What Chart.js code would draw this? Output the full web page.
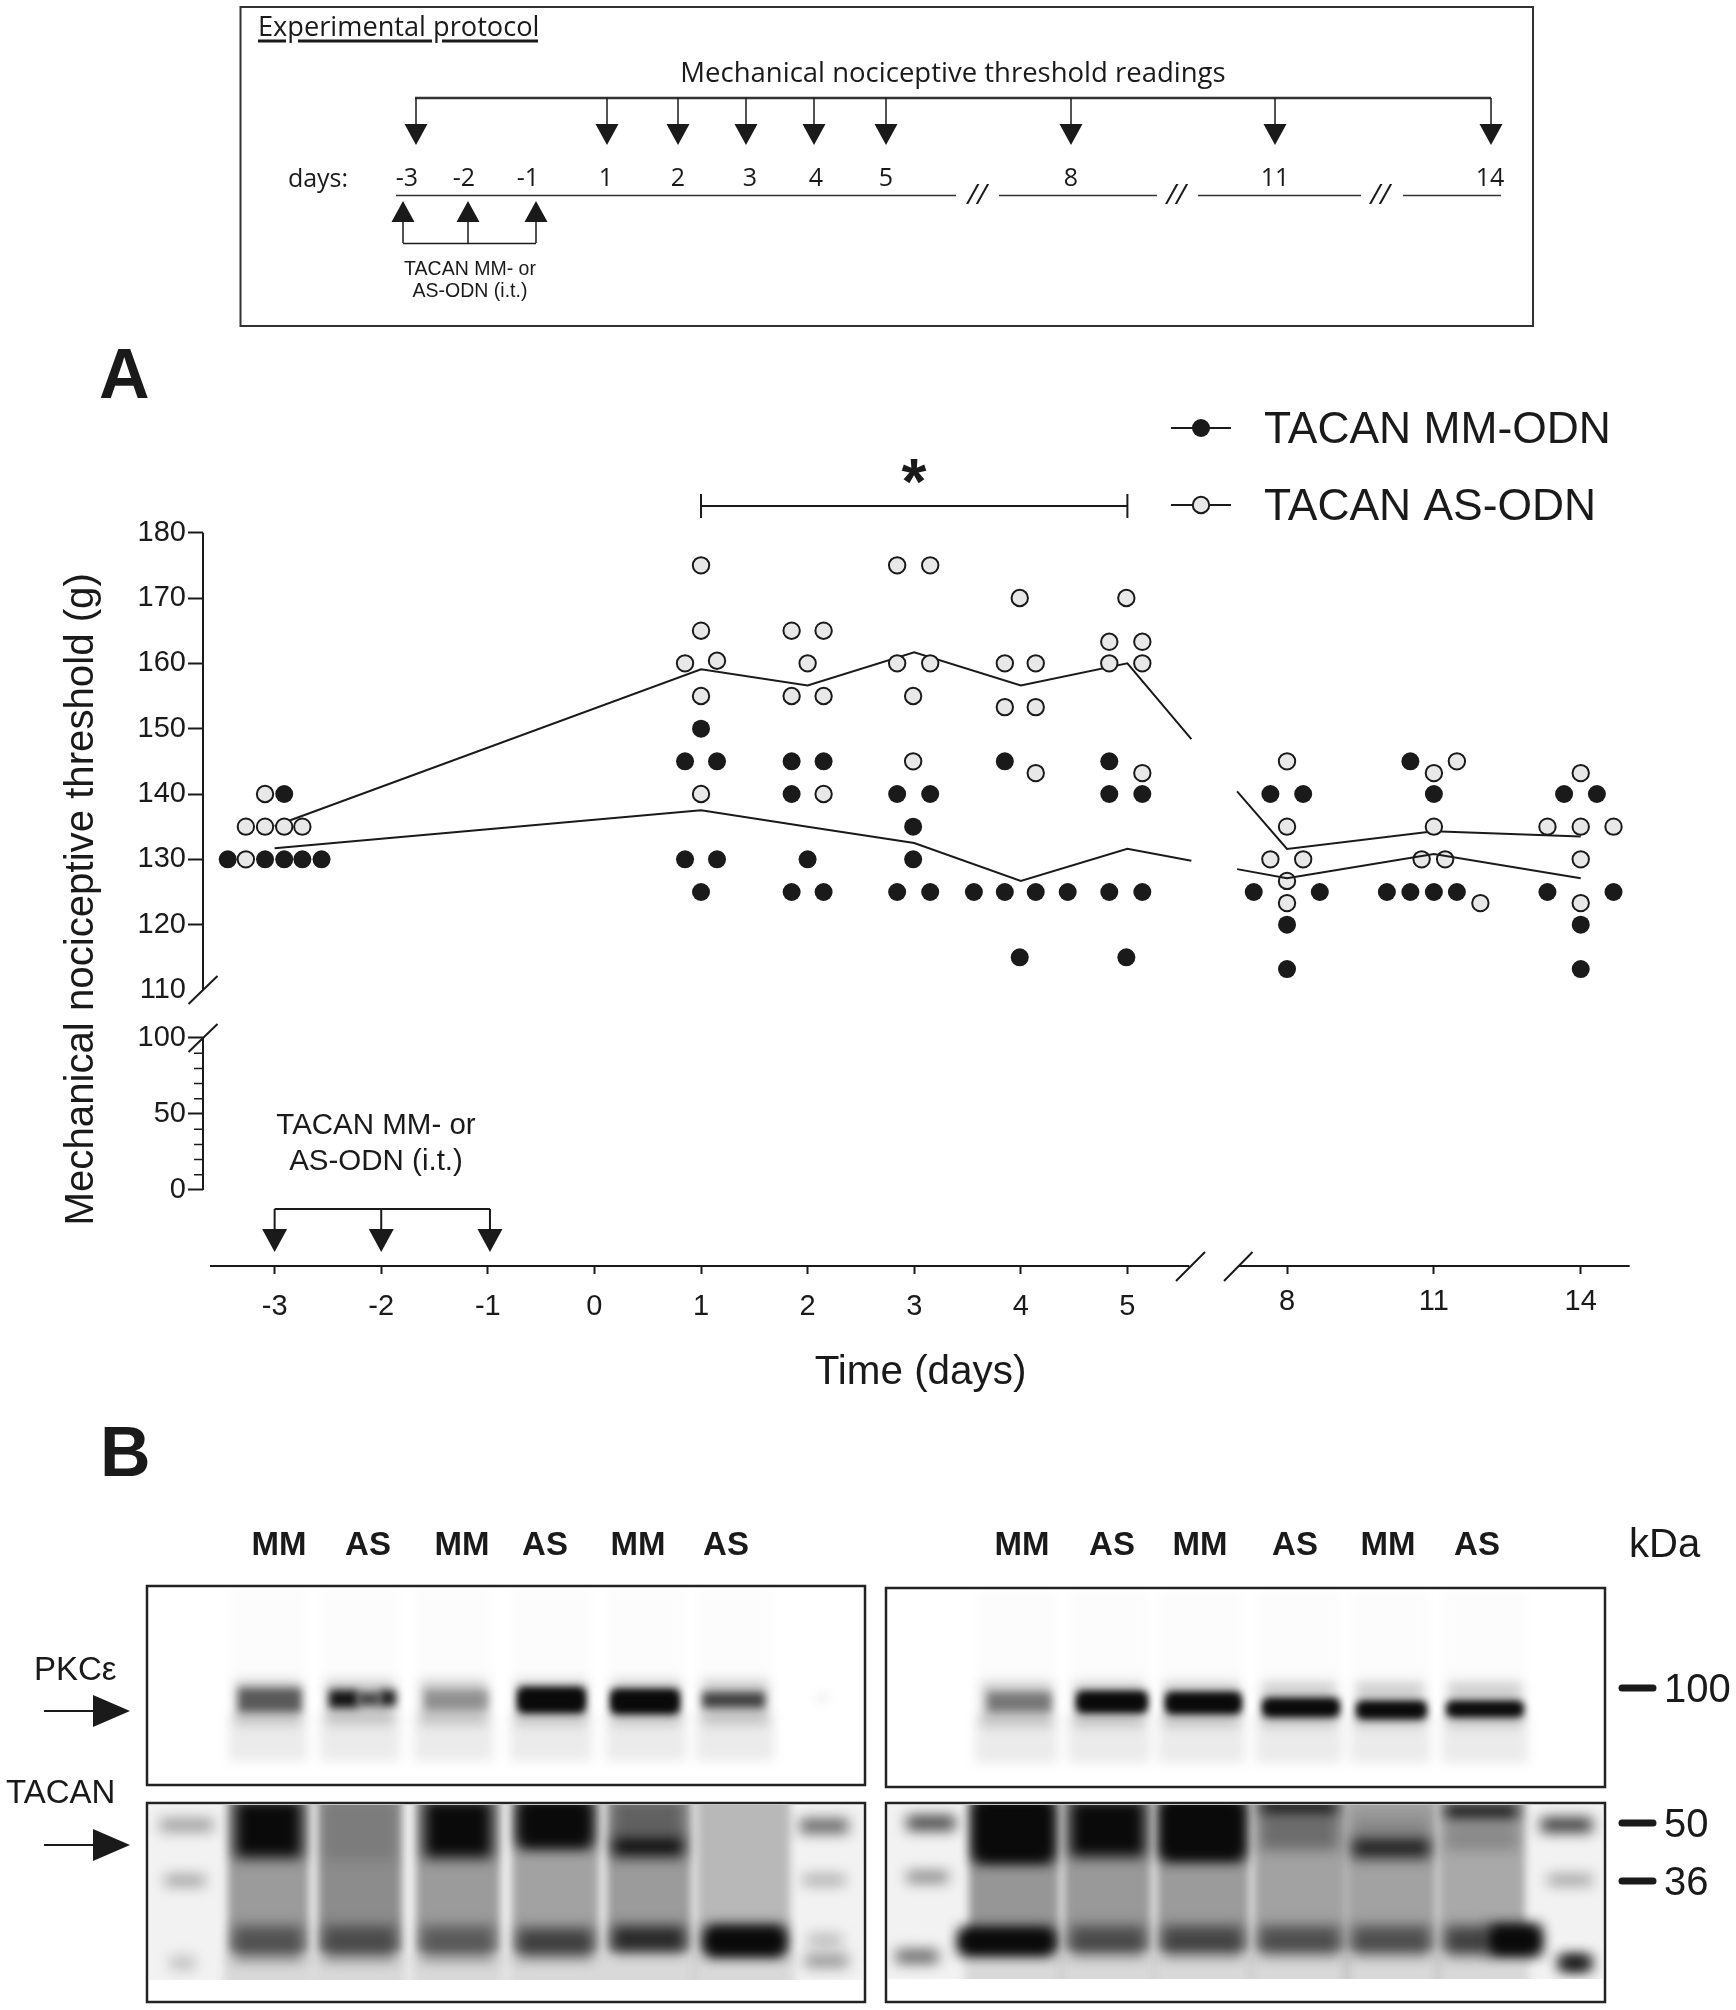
<!DOCTYPE html>
<html>
<head>
<meta charset="utf-8">
<title>TACAN ODN mechanical threshold</title>
<script src="https://cdn.jsdelivr.net/npm/chart.js@4"></script>
<style>
  html, body { margin: 0; padding: 0; background: #fff; }
  #page { position: relative; width: 1736px; height: 2010px; overflow: hidden; }
  #page canvas, #page svg { position: absolute; left: 0; top: 0; }
  svg text { fill: #1a1a1a; }
  .ar { font-family: "Liberation Sans", Arial, sans-serif; }
  .os { font-family: "Open Sans", sans-serif; }
</style>
</head>
<body>
<div id="page">
  <canvas id="blots" width="1736" height="2010"></canvas>
  <canvas id="chart" width="1736" height="1420"></canvas>
  <svg width="1736" height="2010" viewBox="0 0 1736 2010">
    <defs>
      <g id="dn"><path d="M0 0V27" stroke="#1a1a1a" stroke-width="1.5"/><path d="M-11.5 26H11.5L0 47Z" fill="#1a1a1a"/></g>
      <path id="bigArrow" d="M44 -1V1H93V16L130 0L93 -16V-1Z" fill="#1a1a1a"/>
    </defs>

    <!-- protocol box -->
    <rect x="240.5" y="7" width="1292.5" height="319" fill="none" stroke="#333" stroke-width="2"/>
    <text class="os" x="258" y="25" font-size="27.2" dominant-baseline="central">Experimental protocol</text>
    <path d="M258 41H286M298 41H432M442 41H538" stroke="#1a1a1a" stroke-width="3"/>
    <text class="os" x="953" y="71" font-size="27.5" text-anchor="middle" dominant-baseline="central">Mechanical nociceptive threshold readings</text>
    <path d="M415 98H1491" stroke="#333" stroke-width="2.5"/>
    <use href="#dn" x="416" y="98"/><use href="#dn" x="607" y="98"/><use href="#dn" x="678" y="98"/>
    <use href="#dn" x="746" y="98"/><use href="#dn" x="814" y="98"/><use href="#dn" x="886" y="98"/>
    <use href="#dn" x="1071" y="98"/><use href="#dn" x="1275" y="98"/><use href="#dn" x="1491" y="98"/>
    <g class="os" font-size="25" text-anchor="middle" dominant-baseline="central">
      <text x="318" y="177">days:</text>
      <text x="407" y="176">-3</text><text x="464" y="176">-2</text><text x="528" y="176">-1</text>
      <text x="606" y="176">1</text><text x="678" y="176">2</text><text x="750" y="176">3</text>
      <text x="816" y="176">4</text><text x="886" y="176">5</text><text x="1071" y="176">8</text>
      <text x="1275" y="176">11</text><text x="1490" y="176">14</text>
      <text x="977" y="193" font-size="28" font-style="italic">//</text>
      <text x="1176" y="193" font-size="28" font-style="italic">//</text>
      <text x="1380" y="193" font-size="28" font-style="italic">//</text>
    </g>
    <path d="M396 195.5H956M999 195.5H1157M1198 195.5H1361M1403 195.5H1501" stroke="#333" stroke-width="1.5"/>
    <path d="M403 243V221M468 243V221M536 243V221M403 243.5H536" stroke="#1a1a1a" stroke-width="1.5" fill="none"/>
    <path d="M391.5 222H414.5L403 201ZM456.5 222H479.5L468 201ZM524.5 222H547.5L536 201Z" fill="#1a1a1a"/>
    <g class="ar" font-size="19.5" text-anchor="middle" dominant-baseline="central">
      <text x="470" y="268">TACAN MM- or</text>
      <text x="470" y="290">AS-ODN (i.t.)</text>
    </g>

    <!-- panel letters -->
    <text class="ar" x="99" y="398" font-size="70" font-weight="700">A</text>
    <text class="ar" x="100" y="1476" font-size="70" font-weight="700">B</text>

    <!-- blot labels -->
    <g class="ar" font-size="33" font-weight="700" text-anchor="middle" dominant-baseline="central">
      <text x="279" y="1543">MM</text><text x="368" y="1543">AS</text><text x="462" y="1543">MM</text>
      <text x="545" y="1543">AS</text><text x="638" y="1543">MM</text><text x="726" y="1543">AS</text>
      <text x="1022" y="1543">MM</text><text x="1112" y="1543">AS</text><text x="1200" y="1543">MM</text>
      <text x="1295" y="1543">AS</text><text x="1388" y="1543">MM</text><text x="1477" y="1543">AS</text>
    </g>
    <g class="ar" font-size="40" dominant-baseline="central">
      <text x="1629" y="1543">kDa</text>
      <text x="1664" y="1688">100</text>
      <text x="1664" y="1823">50</text>
      <text x="1664" y="1881">36</text>
    </g>
    <path d="M1622 1688H1653M1622 1823H1653M1622 1881H1653" stroke="#1a1a1a" stroke-width="7" stroke-linecap="round"/>
    <g class="ar" font-size="33" dominant-baseline="central">
      <text x="34" y="1668">PKCε</text>
      <text x="6" y="1791">TACAN</text>
    </g>
    <use href="#bigArrow" x="0" y="1711"/>
    <use href="#bigArrow" x="0" y="1845"/>

    <!-- blot frames -->
    <g fill="none" stroke="#222" stroke-width="2.5">
      <rect x="147" y="1586" width="718" height="199"/>
      <rect x="147" y="1803" width="718" height="199"/>
      <rect x="886" y="1588" width="719" height="199"/>
      <rect x="886" y="1803" width="719" height="199"/>
    </g>
  </svg>
</div>

<script>
// Panel A values. x in days, y in grams.
const leftDays = [-3, -2, -1, 0, 1, 2, 3, 4, 5];
const rightDays = [8, 11, 14];
const upperTicks = [110, 120, 130, 140, 150, 160, 170, 180];
const lowerTicks = [0, 50, 100];
const lowerMinorTicks = [10, 20, 30, 40, 60, 70, 80, 90];
const dosingDays = [-3, -2, -0.98];

// individual animals, days -3 to 5
const mmLeftX = [-3.44, -2.91, -2.74, -2.56, -3.09, -2.91,
  1, 0.85, 1.15, 0.85, 1.15, 1,
  1.85, 2.15, 1.85, 2, 1.85, 2.15,
  2.84, 3.15, 2.99, 2.99, 2.84, 3.15,
  3.85, 3.56, 3.85, 4.14, 4.44, 3.99,
  4.83, 4.83, 5.14, 4.83, 5.14, 4.99];
const mmLeftY = [130, 130, 130, 130, 130, 140,
  150, 145, 145, 130, 130, 125,
  145, 145, 140, 130, 125, 125,
  140, 140, 135, 130, 125, 125,
  145, 125, 125, 125, 125, 115,
  145, 140, 140, 125, 125, 115];
const asLeftX = [-3.27, -3.27, -3.09, -2.91, -2.74, -3.09,
  1, 1, 0.85, 1.15, 1, 1,
  1.85, 2.15, 2, 1.85, 2.15, 2.15,
  2.84, 3.15, 2.84, 3.15, 2.99, 2.99,
  3.99, 3.85, 4.14, 3.85, 4.14, 4.14,
  4.99, 4.83, 5.14, 4.83, 5.14, 5.14];
const asLeftY = [130, 135, 135, 135, 135, 140,
  175, 165, 160, 160.4, 155, 140,
  165, 165, 160, 155, 155, 140,
  175, 175, 160, 160, 155, 145,
  170, 160, 160, 153.3, 153.3, 143.2,
  170, 163.3, 163.3, 160, 160, 143.2];

// individual animals, days 8 to 14
const mmRightX = [7.66, 8.33, 7.32, 8.67, 8, 8,
  10.52, 11, 10.04, 10.52, 11, 11.47,
  13.66, 14.33, 13.32, 14.67, 14, 14];
const mmRightY = [140, 140, 125, 125, 120, 113.2,
  145, 140, 125, 125, 125, 125,
  140, 140, 125, 125, 120, 113.2];
const asRightX = [8, 8, 7.66, 8.33, 8, 8,
  11.47, 11, 11, 10.75, 11.23, 11.95,
  14, 13.32, 14, 14.67, 14, 14];
const asRightY = [145, 135, 130, 130, 126.7, 123.3,
  145, 143.2, 135, 130, 130, 123.3,
  143.2, 135, 135, 135, 130, 123.3];

// group mean lines
const lineLeftX = [-3, 1, 2, 3, 4, 5, 5.6];
const mmLineLeftY = [131.7, 137.5, 135, 132.5, 126.7, 131.6, 129.8];
const asLineLeftY = [135.1, 159.1, 156.6, 161.7, 156.6, 160, 148.4];
const lineRightX = [6.98, 8, 11, 14];
const mmLineRightY = [128.5, 127.1, 130.8, 127.1];
const asLineRightY = [140.4, 131.6, 134.3, 133.5];

// Blot bands: x0, x1, y0, y1, darkness
const blotTopLeft = [
  [238, 302, 1688, 1712, .6], [329, 358, 1690, 1708, .95], [358, 380, 1692, 1706, .7], [380, 396, 1690, 1706, .9],
  [424, 489, 1690, 1710, .32], [519, 584, 1688, 1712, 1], [519, 584, 1690, 1710, 1], [612, 678, 1690, 1713, 1], [612, 678, 1692, 1711, 1],
  [702, 765, 1692, 1708, .72], [815, 830, 1693, 1703, .05]
];
const blotTopRight = [
  [987, 1052, 1692, 1712, .45], [1078, 1146, 1692, 1712, 1], [1078, 1146, 1694, 1710, 1],
  [1167, 1240, 1693, 1713, 1], [1167, 1240, 1695, 1711, 1], [1264, 1338, 1699, 1716, 1], [1264, 1338, 1701, 1714, 1],
  [1358, 1425, 1702, 1718, 1], [1358, 1425, 1704, 1716, 1], [1448, 1522, 1702, 1716, 1], [1448, 1522, 1704, 1714, 1]
];
const lanesTopLeft = [[231, 305, 0], [322, 398, 0], [416, 491, 0], [512, 590, 0], [608, 684, 0], [698, 772, 0]];
const lanesTopRight = [[977, 1056, 0], [1070, 1148, 0], [1160, 1243, 0], [1258, 1340, 0], [1352, 1428, 0], [1444, 1526, 0]];
const blotBottomLeft = [
  [235, 302, 1800, 1858, 1], [424, 492, 1800, 1858, 1], [519, 591, 1800, 1848, 1], [519, 591, 1800, 1845, .8],
  [612, 684, 1836, 1857, .95], [612, 684, 1800, 1836, .4], [323, 396, 1800, 1860, .12],
  [233, 303, 1926, 1960, .5], [323, 396, 1926, 1960, .5], [421, 494, 1926, 1960, .45], [517, 593, 1928, 1958, .65], [612, 685, 1926, 1952, .8],
  [706, 784, 1926, 1956, 1], [706, 784, 1930, 1953, 1],
  [160, 213, 1819, 1831, .4], [165, 205, 1875, 1886, .38], [170, 195, 1957, 1969, .25],
  [800, 848, 1819, 1833, .65], [803, 845, 1875, 1885, .35], [808, 842, 1935, 1945, .3], [805, 848, 1955, 1967, .45]
];
const blotBottomRight = [
  [975, 1052, 1800, 1862, 1], [975, 1052, 1800, 1860, 1], [1070, 1145, 1800, 1857, 1], [1162, 1243, 1800, 1860, 1], [1162, 1243, 1800, 1858, 1],
  [1260, 1338, 1800, 1814, 1], [1260, 1338, 1815, 1850, .35], [1352, 1430, 1838, 1858, .85], [1352, 1430, 1815, 1838, .15],
  [1445, 1518, 1804, 1818, 1], [1445, 1518, 1825, 1850, .2],
  [960, 1053, 1928, 1955, 1], [960, 1053, 1932, 1951, 1], [1070, 1145, 1926, 1956, .55], [1162, 1243, 1926, 1956, .6], [1259, 1340, 1926, 1956, .55],
  [1352, 1430, 1926, 1956, .55], [1445, 1490, 1926, 1956, .65], [1490, 1540, 1925, 1955, 1], [1490, 1540, 1928, 1953, 1],
  [907, 955, 1816, 1830, .8], [907, 948, 1872, 1882, .55], [896, 938, 1950, 1963, .65],
  [1541, 1592, 1818, 1832, .85], [1548, 1592, 1875, 1885, .4], [1560, 1590, 1956, 1970, 1], [1560, 1590, 1958, 1968, 1]
];
const lanesBottomLeft = [[228, 309, .36], [318, 402, .42], [416, 500, .36], [512, 599, .33], [607, 691, .36], [697, 790, .24]];
const lanesBottomRight = [[969, 1059, .38], [1064, 1151, .37], [1157, 1249, .36], [1254, 1346, .33], [1347, 1436, .33], [1439, 1525, .3]];

const INK = '#1a1a1a';
const AS_FILL = '#e8e8e8';
const FONT = '"Liberation Sans", Arial, sans-serif';
const R_FILLED = 9;
const R_OPEN = 8.2;

function pairs(xs, ys) {
  return xs.map((x, i) => ({ x, y: ys[i] }));
}

function tickList(values) {
  return axis => { axis.ticks = values.map(value => ({ value })); };
}

function dots(label, xs, ys, xAxisID, filled, order) {
  return {
    label, data: pairs(xs, ys), xAxisID, yAxisID: 'y', order, showLine: false,
    pointRadius: filled ? R_FILLED : R_OPEN,
    pointBorderWidth: filled ? 0 : 2,
    pointBackgroundColor: filled ? INK : AS_FILL,
    pointBorderColor: INK,
  };
}

function meanLine(label, xs, ys, xAxisID, order) {
  return {
    label, data: pairs(xs, ys), xAxisID, yAxisID: 'y', order, showLine: true,
    borderColor: INK, borderWidth: 2, pointRadius: 0, tension: 0,
  };
}

// axis lines, breaks, minor ticks, bracket, arrows and legend
const figureExtras = {
  id: 'figureExtras',
  afterLayout(chart) {
    // zero-size stacked scales would clip their labels to nothing
    chart.scales.yLow.left -= 145;
    chart.scales.xRight.bottom += 131;
  },
  beforeDatasetsDraw(chart) {
    const { ctx, chartArea, scales } = chart;
    const left = chartArea.left;
    const base = chartArea.bottom;
    const y110 = scales.y.getPixelForValue(110);
    const y100 = scales.yLow.getPixelForValue(100);
    ctx.save();
    ctx.strokeStyle = INK;
    ctx.lineWidth = 2;
    ctx.beginPath();
    // y axis, two segments
    ctx.moveTo(left, scales.y.getPixelForValue(180)); ctx.lineTo(left, y110);
    ctx.moveTo(left, y100); ctx.lineTo(left, scales.yLow.getPixelForValue(0));
    // breaks on y
    ctx.moveTo(left - 14.5, y110 + 14); ctx.lineTo(left + 14.5, y110 - 14);
    ctx.moveTo(left - 14.5, y100 + 14); ctx.lineTo(left + 14.5, y100 - 14);
    // x axis, two segments and the break
    ctx.moveTo(210, base); ctx.lineTo(scales.xLeft.getPixelForValue(5.58), base);
    ctx.moveTo(scales.xRight.getPixelForValue(7.02), base); ctx.lineTo(scales.xRight.getPixelForValue(15), base);
    ctx.moveTo(1176, base + 15); ctx.lineTo(1205, base - 14);
    ctx.moveTo(1224, base + 15); ctx.lineTo(1252.5, base - 14);
    ctx.stroke();
    ctx.lineWidth = 1.5;
    ctx.beginPath();
    lowerMinorTicks.forEach(v => {
      const p = scales.yLow.getPixelForValue(v);
      ctx.moveTo(left - 9, p); ctx.lineTo(left, p);
    });
    ctx.stroke();
    ctx.restore();
  },
  afterDraw(chart) {
    const { ctx, scales } = chart;
    const x = v => scales.xLeft.getPixelForValue(v);
    ctx.save();
    ctx.strokeStyle = INK;
    ctx.fillStyle = INK;

    // significance bracket, days 1 to 5
    ctx.lineWidth = 2;
    ctx.beginPath();
    ctx.moveTo(x(1), 506); ctx.lineTo(x(5), 506);
    ctx.moveTo(x(1), 494); ctx.lineTo(x(1), 518);
    ctx.moveTo(x(5), 494); ctx.lineTo(x(5), 518);
    ctx.stroke();
    ctx.font = '700 64px ' + FONT;
    ctx.textAlign = 'center';
    ctx.textBaseline = 'alphabetic';
    ctx.fillText('*', 914, 504);

    // dosing arrows
    ctx.beginPath();
    ctx.moveTo(x(dosingDays[0]), 1209); ctx.lineTo(x(dosingDays[2]), 1209);
    dosingDays.forEach(d => { ctx.moveTo(x(d), 1209); ctx.lineTo(x(d), 1232); });
    ctx.stroke();
    dosingDays.forEach(d => {
      ctx.beginPath();
      ctx.moveTo(x(d) - 12.5, 1229); ctx.lineTo(x(d) + 12.5, 1229); ctx.lineTo(x(d), 1252);
      ctx.closePath();
      ctx.fill();
    });
    ctx.font = '29.5px ' + FONT;
    ctx.textBaseline = 'middle';
    ctx.fillText('TACAN MM- or', 376, 1126);
    ctx.fillText('AS-ODN (i.t.)', 376, 1162);

    // legend
    [['TACAN MM-ODN', 428, true], ['TACAN AS-ODN', 505, false]].forEach(([text, y, filled]) => {
      ctx.lineWidth = 2;
      ctx.beginPath();
      ctx.moveTo(1171, y); ctx.lineTo(1231, y);
      ctx.stroke();
      ctx.beginPath();
      ctx.arc(1201, y, filled ? R_FILLED : R_OPEN, 0, Math.PI * 2);
      ctx.fillStyle = filled ? INK : AS_FILL;
      ctx.fill();
      if (!filled) ctx.stroke();
      ctx.fillStyle = INK;
      ctx.font = '44.4px ' + FONT;
      ctx.textAlign = 'left';
      ctx.fillText(text, 1264, y + 3);
    });
    ctx.restore();
  },
};

new Chart(document.getElementById('chart').getContext('2d'), {
  type: 'scatter',
  data: {
    datasets: [
      dots('TACAN MM-ODN', mmLeftX, mmLeftY, 'xLeft', true, 0),
      dots('TACAN MM-ODN 8-14', mmRightX, mmRightY, 'xRight', true, 0),
      meanLine('MM mean', lineLeftX, mmLineLeftY, 'xLeft', 1),
      meanLine('MM mean 8-14', lineRightX, mmLineRightY, 'xRight', 1),
      dots('TACAN AS-ODN', asLeftX, asLeftY, 'xLeft', false, 2),
      dots('TACAN AS-ODN 8-14', asRightX, asRightY, 'xRight', false, 2),
      meanLine('AS mean', lineLeftX, asLineLeftY, 'xLeft', 3),
      meanLine('AS mean 8-14', lineRightX, asLineRightY, 'xRight', 3),
    ],
  },
  plugins: [figureExtras],
  options: {
    responsive: false,
    devicePixelRatio: 1,
    animation: false,
    events: [],
    layout: {
      autoPadding: false,
      padding: { left: 58, top: 532.7, right: 98, bottom: 1420 - 1266 - 131 },
    },
    plugins: { legend: { display: false }, tooltip: { enabled: false } },
    scales: {
      // both x scales span the whole plot; min/max place each side of the break
      xRight: {
        type: 'linear', position: 'bottom', weight: 0, min: -14.145, max: 15.17,
        afterBuildTicks: tickList(rightDays),
        afterFit(scale) { scale.height = 0; },
        border: { display: false },
        grid: { drawOnChartArea: false, tickLength: 8, tickWidth: 2, tickColor: INK },
        ticks: { autoSkip: false, maxRotation: 0, padding: 11, color: INK, font: { family: FONT, size: 29 } },
      },
      xLeft: {
        type: 'linear', position: 'bottom', weight: 1, min: -3.672, max: 9.79,
        afterBuildTicks: tickList(leftDays),
        afterFit(scale) { scale.height = 131; },
        border: { display: false },
        grid: { drawOnChartArea: false, tickLength: 8, tickWidth: 2, tickColor: INK },
        ticks: { autoSkip: false, maxRotation: 0, padding: 16, color: INK, font: { family: FONT, size: 29 } },
        title: { display: true, text: 'Time (days)', color: INK, padding: 0, font: { family: FONT, size: 40.4 } },
      },
      y: {
        type: 'linear', position: 'left', weight: 1, min: 67.75, max: 180,
        afterBuildTicks: tickList(upperTicks),
        afterFit(scale) { scale.width = 145; },
        border: { display: false },
        grid: {
          drawOnChartArea: false, tickLength: 15, tickWidth: 2,
          tickColor: c => (c.tick && c.tick.value === 110 ? 'transparent' : INK),
        },
        ticks: { autoSkip: false, padding: 2, color: INK, font: { family: FONT, size: 29 } },
        title: { display: true, text: 'Mechanical nociceptive threshold (g)', color: INK, padding: 0, font: { family: FONT, size: 40.2 } },
      },
      yLow: {
        type: 'linear', position: 'left', weight: 0, min: -50, max: 432.4,
        afterBuildTicks: tickList(lowerTicks),
        afterFit(scale) { scale.width = 0; },
        border: { display: false },
        grid: { drawOnChartArea: false, tickLength: 15, tickWidth: 2, tickColor: INK },
        ticks: { autoSkip: false, padding: 2, color: INK, font: { family: FONT, size: 29 } },
      },
    },
  },
});

// ---- western blots (images in the original, not chart data) ----
function paintBlot(ctx, region, lanes, bands, gel) {
  const [rx, ry, rw, rh] = region;
  ctx.save();
  ctx.beginPath();
  ctx.rect(rx, ry, rw, rh);
  ctx.clip();
  if (gel) {
    ctx.fillStyle = '#f2f2f2';
    ctx.fillRect(rx, ry, rw, rh);
  }
  ctx.filter = gel ? 'blur(4px)' : 'blur(6px)';
  lanes.forEach(([a, b, d]) => {
    if (gel) {
      ctx.fillStyle = 'rgba(0,0,0,' + d + ')';
      ctx.fillRect(a, ry - 20, b - a, rh - 8);
      ctx.fillStyle = 'rgba(0,0,0,.1)';
      ctx.fillRect(a - 4, ry + rh - 26, b - a + 8, 40);
    } else {
      ctx.fillStyle = 'rgba(0,0,0,.012)';
      ctx.fillRect(a, ry, b - a, 100);
      ctx.fillStyle = 'rgba(0,0,0,.08)';
      ctx.fillRect(a - 2, ry + 125, b - a + 4, 48);
      ctx.fillStyle = 'rgba(0,0,0,.18)';
      ctx.fillRect(a + 4, ry + 92, b - a - 8, 44);
    }
  });
  ctx.filter = gel ? 'blur(7px)' : 'blur(4px)';
  bands.forEach(([a, b, t, u, d]) => {
    ctx.fillStyle = 'rgba(10,10,10,' + d + ')';
    ctx.fillRect(a, t, b - a, u - t);
  });
  ctx.restore();
}

const blotCtx = document.getElementById('blots').getContext('2d');
blotCtx.fillStyle = '#fff';
blotCtx.fillRect(0, 0, 1736, 2010);
paintBlot(blotCtx, [149, 1588, 714, 195], lanesTopLeft, blotTopLeft, false);
paintBlot(blotCtx, [888, 1590, 715, 195], lanesTopRight, blotTopRight, false);
paintBlot(blotCtx, [149, 1805, 714, 175], lanesBottomLeft, blotBottomLeft, true);
paintBlot(blotCtx, [888, 1805, 715, 174], lanesBottomRight, blotBottomRight, true);
</script>
</body>
</html>
